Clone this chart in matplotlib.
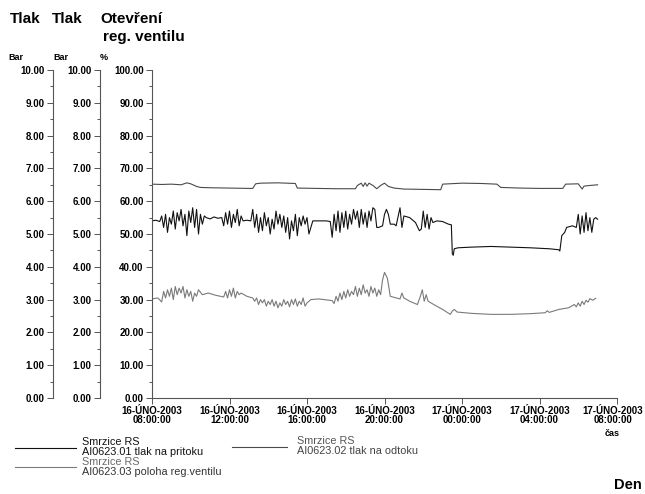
#!/usr/bin/env python3

import matplotlib
matplotlib.use("Agg")
from matplotlib import pyplot as plt
from matplotlib import transforms
from matplotlib.ticker import MultipleLocator, FormatStrFormatter

plt.rcParams["font.family"] = ["Liberation Sans", "DejaVu Sans"]

# time axis in hours from 16-UNO-2003 08:00:00
tick_hours = [0, 4, 8, 12, 16, 20, 24]
tick_labels = [
    "16-ÚNO-2003\n08:00:00",
    "16-ÚNO-2003\n12:00:00",
    "16-ÚNO-2003\n16:00:00",
    "16-ÚNO-2003\n20:00:00",
    "17-ÚNO-2003\n00:00:00",
    "17-ÚNO-2003\n04:00:00",
    "17-ÚNO-2003\n08:00:00",
]

# AI0623.01 tlak na pritoku (plotted on % scale, bar x 10)
pritok_h = [
    0.0, 0.2, 0.4, 0.5, 0.6, 0.7, 0.8, 0.9, 1.0, 1.1, 1.2, 1.3, 1.4, 1.5,
    1.6, 1.7, 1.8, 1.9, 2.0, 2.1, 2.2, 2.3, 2.4, 2.5, 2.6, 2.7, 2.8, 3.0,
    3.2, 3.4, 3.6, 3.7, 3.8, 3.9, 4.0, 4.1, 4.2, 4.3, 4.4, 4.5, 4.6, 4.7,
    4.9, 5.1, 5.2, 5.3, 5.4, 5.5, 5.6, 5.7, 5.8, 5.9, 6.0, 6.1, 6.2, 6.3,
    6.4, 6.5, 6.6, 6.7, 6.8, 6.9, 7.0, 7.1, 7.2, 7.3, 7.4, 7.5, 7.6, 7.7,
    7.8, 7.9, 8.0, 8.1, 8.3, 8.6, 9.0, 9.2, 9.3, 9.4, 9.5, 9.6, 9.7, 9.8,
    9.9, 10.0, 10.1, 10.2, 10.3, 10.4, 10.5, 10.6, 10.7, 10.8, 10.9, 11.0,
    11.1, 11.2, 11.3, 11.4, 11.5, 11.6, 11.7, 11.9, 12.0, 12.1, 12.2, 12.3,
    12.5, 12.6, 12.8, 12.9, 13.0, 13.3, 13.6, 13.8, 13.9, 14.0, 14.1, 14.2,
    14.3, 14.4, 14.5, 14.7, 15.0, 15.3, 15.45, 15.5, 15.55, 15.6, 15.8,
    16.5, 17.5, 18.5, 19.5, 20.5, 21.0, 21.05, 21.15, 21.3, 21.4, 21.7,
    21.9, 22.0, 22.1, 22.2, 22.3, 22.4, 22.5, 22.6, 22.7, 22.8, 22.9, 23.0,
]
pritok_v = [
    54.0, 54.2, 53.8, 55.5, 52.0, 56.0, 50.5, 55.0, 53.0, 57.0, 51.5, 56.5,
    54.0, 57.5, 52.5, 56.0, 49.5, 57.0, 53.5, 58.0, 52.0, 57.5, 50.0, 56.0,
    53.0, 55.5, 55.0, 54.6, 55.2, 54.8, 55.0, 52.5, 56.5, 53.0, 57.0, 52.0,
    56.0, 53.5, 57.5, 52.5, 55.5, 54.0, 54.2, 54.0, 57.5, 52.0, 56.0, 50.5,
    55.0, 51.0, 56.5, 52.5, 55.0, 50.0, 54.5, 51.5, 57.0, 53.0, 56.0, 52.0,
    55.5, 50.5, 55.0, 48.5, 54.0, 51.0, 56.0, 49.5, 55.0, 52.5, 55.5, 53.0,
    55.0, 50.0, 54.0, 54.0, 54.0, 53.8, 49.0, 56.0, 51.0, 57.0, 50.5, 56.5,
    52.0, 57.0, 51.5, 56.0, 53.0, 57.5, 54.5, 57.0, 52.0, 57.5, 53.0, 56.5,
    52.0, 57.0, 54.0, 58.0, 57.5, 52.0, 52.0, 52.5, 56.0, 57.5, 56.0, 53.0,
    53.0, 52.5, 58.0, 52.0, 55.5, 55.0, 53.5, 51.0, 51.5, 57.0, 52.0, 56.0,
    51.5, 55.0, 53.5, 54.0, 53.8, 53.0, 52.8, 44.0, 43.5, 45.5, 45.8,
    46.0, 46.2, 46.0, 45.8, 45.5, 45.2, 44.8, 49.5, 50.5, 52.0, 52.5,
    52.0, 56.0, 50.0, 55.5, 50.5, 56.5, 51.0, 55.0, 50.5, 54.5, 55.0, 54.5,
]

# AI0623.02 tlak na odtoku
odtok_h = [
    0.0, 0.5, 1.0, 1.5, 1.8, 2.0, 2.3, 2.5, 3.0, 4.0, 5.0, 5.2, 5.35, 5.6,
    6.5, 7.4, 7.5, 8.5, 9.5, 10.5, 10.6, 10.8, 10.9, 11.0, 11.1, 11.2, 11.4,
    11.6, 11.8, 12.0, 12.2, 12.5, 13.0, 14.0, 14.9, 15.0, 16.0, 17.0, 17.8,
    18.0, 19.0, 20.0, 21.2, 21.35, 22.0, 22.2, 22.3, 22.6, 23.0,
]
odtok_v = [
    65.2, 65.1, 65.2, 65.0, 65.6, 65.3, 64.5, 64.2, 64.1, 64.0, 63.9, 63.9,
    65.3, 65.5, 65.6, 65.4, 64.0, 63.9, 63.8, 63.8, 64.8, 65.5, 64.5, 65.6,
    64.6, 65.5, 64.8, 63.8, 64.8, 65.5, 64.5, 64.0, 63.7, 63.6, 63.5, 65.2,
    65.5, 65.4, 65.2, 64.2, 64.0, 63.9, 63.9, 65.2, 65.3, 63.7, 64.6, 64.8,
    65.0,
]

# AI0623.03 poloha reg. ventilu
poloha_h = [
    0.0, 0.3, 0.5, 0.6, 0.7, 0.8, 0.9, 1.0, 1.1, 1.2, 1.3, 1.4, 1.5, 1.6,
    1.7, 1.8, 1.9, 2.0, 2.1, 2.2, 2.3, 2.4, 2.6, 2.9, 3.3, 3.7, 3.8, 3.9,
    4.0, 4.1, 4.2, 4.3, 4.4, 4.5, 4.6, 4.9, 5.2, 5.3, 5.4, 5.5, 5.6, 5.7,
    5.8, 5.9, 6.0, 6.1, 6.2, 6.3, 6.4, 6.5, 6.6, 6.7, 6.8, 6.9, 7.0, 7.1,
    7.2, 7.3, 7.4, 7.5, 7.6, 7.7, 7.8, 7.9, 8.0, 8.2, 8.6, 9.0, 9.3, 9.4,
    9.5, 9.6, 9.7, 9.8, 9.9, 10.0, 10.1, 10.2, 10.3, 10.4, 10.5, 10.6,
    10.7, 10.8, 10.9, 11.0, 11.1, 11.2, 11.3, 11.4, 11.5, 11.6, 11.7, 11.8,
    11.9, 12.0, 12.15, 12.3, 12.6, 12.8, 12.9, 13.0, 13.3, 13.7, 13.85,
    13.95, 14.05, 14.15, 14.25, 14.6, 15.0, 15.4, 15.5, 15.6, 15.75, 16.5,
    17.5, 18.5, 19.5, 20.3, 20.4, 20.5, 21.0, 21.5, 21.8, 21.9, 22.0, 22.1,
    22.2, 22.3, 22.4, 22.5, 22.6, 22.75, 22.9,
]
poloha_v = [
    30.2, 30.5, 29.3, 32.5, 30.5, 33.0, 31.0, 33.5, 30.0, 34.0, 31.5, 33.5,
    32.0, 34.0, 30.5, 33.0, 31.0, 32.5, 29.5, 32.0, 31.0, 33.0, 31.5, 32.0,
    31.3, 30.8, 32.5, 30.5, 33.0, 31.0, 33.5, 30.5, 32.5, 31.5, 32.0, 31.0,
    30.5, 29.5, 30.5, 28.5, 30.0, 29.0, 30.0, 28.0, 29.5, 28.5, 30.0, 28.0,
    29.5, 27.5, 29.0, 28.0, 30.0, 28.5, 29.5, 27.8, 30.0, 28.5, 30.2, 28.0,
    29.5, 28.5, 30.5, 28.0, 29.0, 30.0, 30.2, 29.9, 29.7, 28.8, 31.0, 29.5,
    32.0, 30.0, 32.5, 30.5, 33.0, 31.0, 32.5, 31.5, 34.0, 31.0, 33.5, 31.5,
    34.5, 32.0, 33.0, 31.0, 34.0, 32.0, 33.5, 31.0, 33.0, 31.5, 36.0, 38.3,
    36.5, 31.0, 30.5, 30.2, 32.0, 30.5, 29.5, 28.5, 31.0, 33.0, 29.5, 31.5,
    29.5, 28.3, 27.0, 25.5, 26.5, 27.0, 26.2, 25.8, 25.5, 25.5, 25.7, 26.0,
    26.6, 26.1, 27.0, 27.5, 28.5, 27.8, 29.0, 28.0, 29.5, 28.5, 29.8, 29.2,
    30.3, 29.8, 30.4,
]

W, H = 645, 494
fig = plt.figure(figsize=(W / 100, H / 100), dpi=100)

bottom = 1 - 398 / H
height = (398 - 70) / H
ax = fig.add_axes([152 / W, bottom, (617 - 152) / W, height])

ax.plot(odtok_h, odtok_v, color="#4a4a4a", lw=0.8)
ax.plot(pritok_h, pritok_v, color="#111111", lw=0.8)
ax.plot(poloha_h, poloha_v, color="#7a7a7a", lw=0.8)

ax.set_xlim(0, 24)
ax.set_ylim(0, 100)
for s in ("top", "right"):
    ax.spines[s].set_visible(False)
for s in ("left", "bottom"):
    ax.spines[s].set_color("#555555")
    ax.spines[s].set_linewidth(0.8)
ax.set_xticks(tick_hours)
ax.set_xticklabels(tick_labels, fontsize=7, fontweight="bold", linespacing=0.85)
ax.yaxis.set_major_locator(MultipleLocator(10))
ax.yaxis.set_minor_locator(MultipleLocator(5))
ax.yaxis.set_major_formatter(FormatStrFormatter("%.2f"))
ax.tick_params(axis="both", which="major", length=4, width=0.7, color="#555555",
               labelsize=7, pad=2)
ax.tick_params(axis="y", which="minor", length=2.5, width=0.7, color="#555555")
for lbl in ax.get_yticklabels():
    lbl.set_fontweight("bold")

# last date label sits at the right edge, nudge it a little to the left
last = ax.get_xticklabels()[-1]
shift = transforms.ScaledTranslation(-4 / 100, 0, fig.dpi_scale_trans)
last.set_transform(last.get_transform() + shift)

# two extra pressure axes on the left (Bar)
for xpix in (53, 100):
    bx = fig.add_axes([xpix / W, bottom, 0.0001, height])
    bx.set_ylim(0, 10)
    bx.set_xticks([])
    for s in ("top", "right", "bottom"):
        bx.spines[s].set_visible(False)
    bx.spines["left"].set_color("#555555")
    bx.spines["left"].set_linewidth(0.8)
    bx.patch.set_visible(False)
    bx.yaxis.set_major_locator(MultipleLocator(1))
    bx.yaxis.set_minor_locator(MultipleLocator(0.5))
    bx.yaxis.set_major_formatter(FormatStrFormatter("%.2f"))
    bx.tick_params(axis="y", which="major", length=4, width=0.7, color="#555555",
                   labelsize=7, pad=2)
    bx.tick_params(axis="y", which="minor", length=2.5, width=0.7, color="#555555")
    for lbl in bx.get_yticklabels():
        lbl.set_fontweight("bold")


def px(x, y):
    return x / W, 1 - y / H


# header labels
hdr = dict(fontsize=11, fontweight="bold", va="center", ha="left")
fig.text(*px(10, 19), "Tlak", **hdr)
fig.text(*px(52, 19), "Tlak", **hdr)
fig.text(*px(100, 19), "Otevření", **hdr)
fig.text(*px(103, 37), "reg. ventilu", **hdr)
unit = dict(fontsize=6.5, fontweight="bold", va="center", ha="left")
fig.text(*px(8, 58), "Bar", **unit)
fig.text(*px(53, 58), "Bar", **unit)
fig.text(*px(100, 58), "%", **unit)

fig.text(*px(612, 433), "čas", fontsize=6.5, fontweight="bold", ha="center", va="center")
fig.text(*px(628, 485), "Den", fontsize=10.5, fontweight="bold", ha="center", va="center")

# legend drawn by hand below the chart
leg = dict(fontsize=7.8, va="center", ha="left")
fig.add_artist(plt.Line2D([15 / W, 76 / W], [1 - 448 / H] * 2, color="#111111", lw=0.8))
fig.text(*px(82, 442), "Smrzice RS", color="#111111", **leg)
fig.text(*px(82, 452), "AI0623.01 tlak na pritoku", color="#111111", **leg)
fig.add_artist(plt.Line2D([15 / W, 76 / W], [1 - 467 / H] * 2, color="#7a7a7a", lw=0.8))
fig.text(*px(82, 462), "Smrzice RS", color="#6a6a6a", **leg)
fig.text(*px(82, 472), "AI0623.03 poloha reg.ventilu", color="#333333", **leg)
fig.add_artist(plt.Line2D([232 / W, 287 / W], [1 - 447 / H] * 2, color="#4a4a4a", lw=0.8))
fig.text(*px(297, 441), "Smrzice RS", color="#555555", **leg)
fig.text(*px(297, 451), "AI0623.02 tlak na odtoku", color="#444444", **leg)

fig.savefig("out.png", dpi=100)
